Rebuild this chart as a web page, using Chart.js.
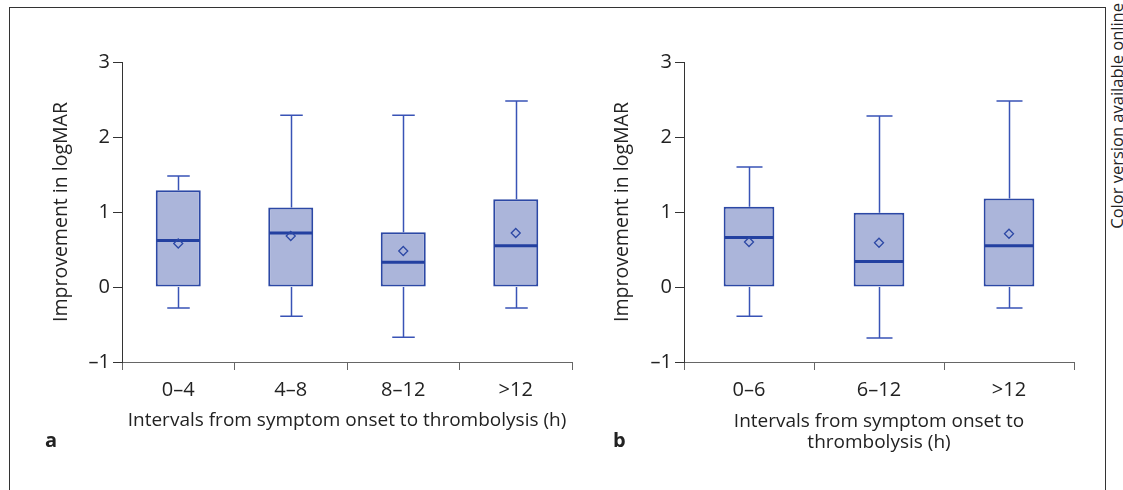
<!DOCTYPE html>
<html>
<head>
<meta charset="utf-8">
<script src="https://cdn.jsdelivr.net/npm/chart.js@4"></script>
<style>
  body { margin: 0; background: #fff; }
  #page { position: relative; width: 1123px; height: 490px; overflow: hidden; font-family: "Open Sans", sans-serif; color: #222; }
  #frame { position: absolute; left: 9px; top: 7px; width: 1095px; height: 490px; border: 1px solid #333; border-bottom: none; }
  canvas { position: absolute; top: 0; }
  #chartA { left: 0; }
  #chartB { left: 600px; }
  .panel { position: absolute; font-weight: bold; font-size: 20px; }
  #note { position: absolute; left: 1105px; top: 3px; font-size: 16.5px; writing-mode: vertical-rl; transform: rotate(180deg); white-space: nowrap; }
</style>
</head>
<body>
<div id="page">
  <div id="frame"></div>
  <canvas id="chartA" width="600" height="490"></canvas>
  <canvas id="chartB" width="480" height="490"></canvas>
  <div class="panel" style="left:45px; top:426px;">a</div>
  <div class="panel" style="left:613px; top:426px;">b</div>
  <div id="note">Color version available online</div>
</div>
<script>
// panel a: 4 time intervals
const groupsA = ['0–4', '4–8', '8–12', '>12'];
const minA = [-0.28, -0.39, -0.67, -0.28];
const q1A = [0, 0, 0, 0];
const medianA = [0.62, 0.72, 0.33, 0.55];
const q3A = [1.29, 1.06, 0.73, 1.17];
const maxA = [1.48, 2.29, 2.29, 2.48];
const meanA = [0.58, 0.68, 0.48, 0.72];

// panel b: 3 time intervals
const groupsB = ['0–6', '6–12', '>12'];
const minB = [-0.39, -0.68, -0.28];
const q1B = [0, 0, 0];
const medianB = [0.66, 0.34, 0.55];
const q3B = [1.07, 0.99, 1.18];
const maxB = [1.60, 2.28, 2.48];
const meanB = [0.60, 0.59, 0.71];

const yTicks = [-1, 0, 1, 2, 3];

const textColor = '#222';
const boxFill = '#abb5da';
const boxLine = '#2c48a5';
const whiskerLine = '#3953b6';

// whiskers behind the boxes, median line on top of them
const boxPlotPlugin = {
    id: 'boxPlot',
    beforeDatasetsDraw(chart) {
        const st = chart.config.options.plugins.boxPlot;
        const x = chart.scales.x;
        const y = chart.scales.y;
        const ctx = chart.ctx;
        const step = x.getPixelForValue(1) - x.getPixelForValue(0);
        const cap = step * 0.2 / 2;
        ctx.save();
        ctx.strokeStyle = whiskerLine;
        ctx.lineWidth = 1.5;
        for (let i = 0; i < st.min.length; i++) {
            const cx = Math.round(x.getPixelForValue(i)) + 0.5;
            ctx.beginPath();
            ctx.moveTo(cx, y.getPixelForValue(st.q3[i]));
            ctx.lineTo(cx, y.getPixelForValue(st.max[i]));
            ctx.moveTo(cx - cap, y.getPixelForValue(st.max[i]));
            ctx.lineTo(cx + cap, y.getPixelForValue(st.max[i]));
            ctx.moveTo(cx, y.getPixelForValue(st.q1[i]));
            ctx.lineTo(cx, y.getPixelForValue(st.min[i]));
            ctx.moveTo(cx - cap, y.getPixelForValue(st.min[i]));
            ctx.lineTo(cx + cap, y.getPixelForValue(st.min[i]));
            ctx.stroke();
        }
        ctx.restore();
    },
    afterDatasetDraw(chart, args) {
        if (args.index !== 0) return;
        const st = chart.config.options.plugins.boxPlot;
        const y = chart.scales.y;
        const ctx = chart.ctx;
        const meta = chart.getDatasetMeta(0);
        ctx.save();
        ctx.strokeStyle = '#2340a0';
        ctx.lineWidth = 3;
        for (let i = 0; i < st.median.length; i++) {
            const bar = meta.data[i];
            const half = bar.width / 2;
            const my = y.getPixelForValue(st.median[i]);
            ctx.beginPath();
            ctx.moveTo(bar.x - half + 1, my);
            ctx.lineTo(bar.x + half - 1, my);
            ctx.stroke();
        }
        ctx.restore();
    }
};

function makeBoxChart(id, labels, mins, q1s, medians, q3s, maxs, means, xTitle, lay) {
    const boxes = labels.map((l, i) => [q1s[i], q3s[i]]);
    return new Chart(document.getElementById(id), {
        type: 'bar',
        data: {
            labels: labels,
            datasets: [{
                data: boxes,
                backgroundColor: boxFill,
                borderColor: boxLine,
                borderWidth: 2,
                borderSkipped: false,
                categoryPercentage: 1,
                barPercentage: lay.bar,
                order: 2
            }, {
                // mean markers
                type: 'line',
                data: means,
                showLine: false,
                borderColor: boxLine,
                backgroundColor: 'rgba(0,0,0,0)',
                pointStyle: 'rectRot',
                pointRadius: 4.5,
                pointBorderWidth: 1.3,
                pointBorderColor: boxLine,
                pointBackgroundColor: 'rgba(0,0,0,0)',
                order: 1
            }]
        },
        options: {
            responsive: false,
            animation: false,
            layout: { padding: { left: lay.left, top: 62, right: lay.right, bottom: lay.bottom } },
            plugins: {
                legend: { display: false },
                tooltip: { enabled: false },
                boxPlot: { min: mins, q1: q1s, median: medians, q3: q3s, max: maxs }
            },
            scales: {
                x: {
                    offset: true,
                    grid: { offset: true, drawOnChartArea: false, tickLength: 8, color: '#666' },
                    border: { color: '#666' },
                    ticks: { color: textColor, padding: 8, font: { family: 'Open Sans', size: 20 } },
                    title: { display: true, text: xTitle, color: textColor, padding: 0,
                        font: { family: 'Open Sans', size: 19, lineHeight: 1.1 } },
                    afterFit(s) { s.height = lay.xHeight; }
                },
                y: {
                    min: -1,
                    max: 3,
                    afterBuildTicks(s) { s.ticks = yTicks.map(v => ({ value: v })); },
                    grid: { drawOnChartArea: false, tickLength: 9, color: '#333' },
                    border: { color: '#333' },
                    ticks: {
                        color: textColor, padding: 3, font: { family: 'Open Sans', size: 20 },
                        callback: v => v < 0 ? '–' + Math.abs(v) : String(v)
                    },
                    title: { display: true, text: 'Improvement in logMAR', color: textColor, padding: 0,
                        font: { family: 'Open Sans', size: 19.5, lineHeight: 1.1 } },
                    afterFit(s) { s.width = lay.yWidth; }
                }
            }
        },
        plugins: [boxPlotPlugin]
    });
}

const chartA = makeBoxChart('chartA', groupsA, minA, q1A, medianA, q3A, maxA, meanA,
    'Intervals from symptom onset to thrombolysis (h)',
    { left: 51, right: 28, bottom: 59, xHeight: 69, yWidth: 71, bar: 0.4 });

const chartB = makeBoxChart('chartB', groupsB, minB, q1B, medianB, q3B, maxB, meanB,
    ['Intervals from symptom onset to', 'thrombolysis (h)'],
    { left: 12, right: 6, bottom: 37, xHeight: 91, yWidth: 72, bar: 0.39 });
</script>
</body>
</html>
